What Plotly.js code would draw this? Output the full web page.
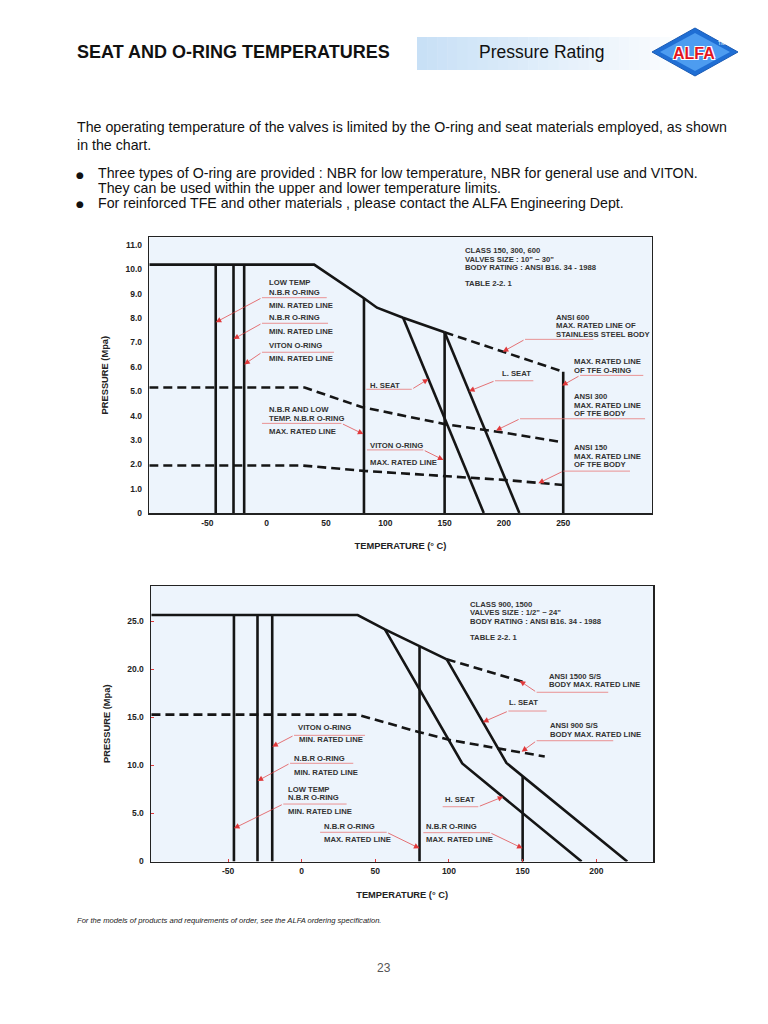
<!DOCTYPE html>
<html>
<head>
<meta charset="utf-8">
<script src="https://cdn.plot.ly/plotly-3.0.1.min.js"></script>
<style>html,body{margin:0;padding:0;background:#fff;}#chart{width:768px;height:1024px;}</style>
</head>
<body>
<div id="chart"></div>
<script>
// ---------- DATA: chart 1 (Class 150, 300, 600) ----------
const C1_TICK_T = [-50, 0, 50, 100, 150, 200, 250];
const C1_TICK_T_TEXT = ['-50', '0', '50', '100', '150', '200', '250'];
const C1_TICK_P = [0, 1, 2, 3, 4, 5, 6, 7, 8, 9, 10, 11];
const C1_TICK_P_TEXT = ['0', '1.0', '2.0', '3.0', '4.0', '5.0', '6.0', '7.0', '8.0', '9.0', '10.0', '11.0'];

const c1MaxT = [-99, 40, 82, 93, 115, 150];
const c1MaxP = [10.2, 10.2, 8.82, 8.43, 8.02, 7.42];
const c1Ansi600T = [150, 250];
const c1Ansi600P = [7.42, 5.8];
const c1TfeOringT = 250, c1TfeOringTop = 5.8;
const c1HSeatT = [115, 183];
const c1HSeatP = [8.02, 0];
const c1LSeatT = [150, 213];
const c1LSeatP = [7.42, 0];
const c1VitonMaxT = 150, c1VitonMaxTop = 7.42;
const c1NbrMaxT = 82, c1NbrMaxTop = 8.82;
const c1MinT = [-43, -28, -19];       // low temp NBR, NBR, VITON min rated
const c1MinTop = 10.2;
const c1Ansi300T = [-99, 32, 80, 150, 200, 250];
const c1Ansi300P = [5.15, 5.15, 4.35, 3.65, 3.3, 2.9];
const c1Ansi150T = [-99, 30, 82, 150, 200, 250];
const c1Ansi150P = [1.95, 1.95, 1.73, 1.53, 1.36, 1.15];

// ---------- DATA: chart 2 (Class 900, 1500) ----------
const C2_TICK_T = [-50, 0, 50, 100, 150, 200];
const C2_TICK_T_TEXT = ['-50', '0', '50', '100', '150', '200'];
const C2_TICK_P = [0, 5, 10, 15, 20, 25];
const C2_TICK_P_TEXT = ['0', '5.0', '10.0', '15.0', '20.0', '25.0'];

const c2MaxT = [-102, 38, 56.5, 98.5];
const c2MaxP = [25.65, 25.65, 24.16, 21.04];
const c2Ansi1500T = [98.5, 150];
const c2Ansi1500P = [21.04, 18.7];
const c2LSeatT = [98.5, 139, 221];
const c2LSeatP = [21.04, 10.25, 0];
const c2HSeatT = [56.5, 109, 190];
const c2HSeatP = [24.16, 10.2, 0];
const c2NbrMaxT = [80, 150];
const c2NbrMaxTop = [22.4, 8.87];
const c2MinT = [-46, -30, -20];
const c2MinTop = 25.65;
const c2Ansi900T = [-102, 38, 80, 100, 135, 165];
const c2Ansi900P = [15.28, 15.28, 13.45, 12.66, 11.72, 10.93];

// ---------- styles ----------
const INK = '#151515';
const RED = '#e0393b';
const SOLID = {color: INK, width: 2.6};
const DASH = {color: INK, width: 2.6, dash: '9px,5px'};
const FONT = 'Liberation Sans, Arial, Helvetica, sans-serif';

const traces = [];
function line(x, y, ax, style) {
  traces.push({type: 'scatter', mode: 'lines', x: x, y: y, xaxis: ax === 1 ? 'x' : 'x2', yaxis: ax === 1 ? 'y' : 'y2',
    line: style, hoverinfo: 'skip', showlegend: false});
}
// chart 1
line(c1MaxT, c1MaxP, 1, SOLID);
line(c1Ansi600T, c1Ansi600P, 1, DASH);
line([c1TfeOringT, c1TfeOringT], [c1TfeOringTop, 0], 1, SOLID);
line(c1HSeatT, c1HSeatP, 1, SOLID);
line(c1LSeatT, c1LSeatP, 1, SOLID);
line([c1VitonMaxT, c1VitonMaxT], [c1VitonMaxTop, 0], 1, SOLID);
line([c1NbrMaxT, c1NbrMaxT], [c1NbrMaxTop, 0], 1, SOLID);
c1MinT.forEach(t => line([t, t], [c1MinTop, 0], 1, SOLID));
line(c1Ansi300T, c1Ansi300P, 1, DASH);
line(c1Ansi150T, c1Ansi150P, 1, DASH);
// chart 2
line(c2MaxT, c2MaxP, 2, SOLID);
line(c2Ansi1500T, c2Ansi1500P, 2, DASH);
line(c2LSeatT, c2LSeatP, 2, SOLID);
line(c2HSeatT, c2HSeatP, 2, SOLID);
c2NbrMaxT.forEach((t, i) => line([t, t], [c2NbrMaxTop[i], 0], 2, SOLID));
c2MinT.forEach(t => line([t, t], [c2MinTop, 0], 2, SOLID));
line(c2Ansi900T, c2Ansi900P, 2, DASH);

// ---------- annotations / shapes ----------
const annotations = [];
const shapes = [];
const LABEL_FONT = {family: FONT, size: 7.7, color: '#333', weight: 'bold'};

function text(ax, x, y, lines, sp) {
  lines.forEach((s, i) => annotations.push({xref: ax === 1 ? 'x' : 'x2', yref: ax === 1 ? 'y' : 'y2', x: x, y: y,
    yshift: -i * (sp || 8.4), text: s, showarrow: false, xanchor: 'left', yanchor: 'middle', font: LABEL_FONT}));
}
function underline(ax, y, x0, x1) {
  shapes.push({type: 'line', xref: ax === 1 ? 'x' : 'x2', yref: ax === 1 ? 'y' : 'y2', x0: x0, x1: x1, y0: y, y1: y,
    line: {color: '#e87878', width: 0.8}});
}
function leader(ax, fx, fy, tx, ty) {
  annotations.push({xref: ax === 1 ? 'x' : 'x2', yref: ax === 1 ? 'y' : 'y2', axref: ax === 1 ? 'x' : 'x2', ayref: ax === 1 ? 'y' : 'y2',
    x: tx, y: ty, ax: fx, ay: fy, text: '', showarrow: true, arrowhead: 2, arrowsize: 1.6, arrowwidth: 0.7,
    arrowcolor: RED, standoff: 0, startstandoff: 0});
}

// chart 1 labels
text(1, 0, 9.45, ['LOW TEMP', 'N.B.R O-RING'], 9.6); text(1, 0, 8.54, ['MIN. RATED LINE']);
underline(1, 8.84, -4, 50.6); leader(1, -4, 8.84, -43, 7.83);
text(1, 0, 8.02, ['N.B.R O-RING']); text(1, 0, 7.46, ['MIN. RATED LINE']);
underline(1, 7.79, -4, 51.7); leader(1, -4, 7.79, -28, 7.14);
text(1, 0, 6.88, ['VITON O-RING']); text(1, 0, 6.36, ['MIN. RATED LINE']);
underline(1, 6.6, -4, 56.7); leader(1, -4, 6.6, -19, 6.1);
text(1, 85.2, 5.24, ['H. SEAT']);
underline(1, 5.08, 84, 122.3); leader(1, 122.3, 5.08, 136.3, 5.5);
text(1, 0, 4.23, ['N.B.R AND LOW', 'TEMP. N.B.R O-RING'], 8.5); text(1, 0, 3.33, ['MAX. RATED LINE']);
underline(1, 3.68, -4, 63); leader(1, 63, 3.68, 81.5, 3.24);
text(1, 85.7, 2.78, ['VITON O-RING']); text(1, 85.7, 2.06, ['MAX. RATED LINE']);
underline(1, 2.59, 84.5, 132); leader(1, 132, 2.59, 149, 2.18);
text(1, 165.8, 10.76, ['CLASS 150, 300, 600', 'VALVES SIZE : 10" ~ 30"', 'BODY RATING : ANSI B16. 34 - 1988'], 8.3);
text(1, 165.8, 9.41, ['TABLE 2-2. 1']);
text(1, 242.2, 8.02, ['ANSI 600', 'MAX. RATED LINE OF', 'STAINLESS STEEL BODY'], 8.2);
underline(1, 7.13, 217.8, 275.4); leader(1, 217.8, 7.13, 199, 6.62);
text(1, 257.7, 6.2, ['MAX. RATED LINE', 'OF TFE O-RING'], 8.3);
underline(1, 5.65, 264.2, 317.5); leader(1, 264.2, 5.65, 249, 5.23);
text(1, 196.7, 5.71, ['L. SEAT']);
underline(1, 5.43, 192.5, 224.8); leader(1, 192.5, 5.43, 170.5, 5.0);
text(1, 257.7, 4.77, ['ANSI 300', 'MAX. RATED LINE', 'OF TFE BODY'], 8.3);
underline(1, 3.87, 213.6, 319); leader(1, 213.6, 3.87, 193.3, 3.39);
text(1, 257.7, 2.68, ['ANSI 150', 'MAX. RATED LINE', 'OF TFE BODY'], 8.6);
underline(1, 1.72, 250, 306.3); leader(1, 250, 1.72, 229, 1.22);

// chart 2 labels
text(2, -3.9, 13.92, ['VITON O-RING']); text(2, -3.4, 12.72, ['MIN. RATED LINE']);
underline(2, 13.13, -5.2, 43); leader(2, -5.2, 13.13, -20, 11.95);
text(2, -6.8, 10.7, ['N.B.R O-RING']); text(2, -6.8, 9.31, ['MIN. RATED LINE']);
underline(2, 10.22, -7.9, 35); leader(2, -7.9, 10.22, -30, 8.38);
text(2, -10.7, 7.54, ['LOW TEMP', 'N.B.R O-RING'], 8.7); text(2, -10.7, 5.25, ['MIN. RATED LINE']);
underline(2, 5.98, -12.5, 30.5); leader(2, -12.5, 5.98, -46, 3.45);
text(2, 13.6, 3.66, ['N.B.R O-RING']); text(2, 13.6, 2.31, ['MAX. RATED LINE']);
underline(2, 3.04, 12.5, 57.7); leader(2, 57.7, 3.04, 80, 1.37);
text(2, 113.1, 26.76, ['CLASS 900, 1500', 'VALVES SIZE : 1/2" ~ 24"', 'BODY RATING : ANSI B16. 34 - 1988'], 8.5);
text(2, 113.1, 23.33, ['TABLE 2-2. 1']);
text(2, 166.3, 19.3, ['ANSI 1500 S/S', 'BODY MAX. RATED LINE'], 8.3);
underline(2, 17.61, 159.5, 208.1); leader(2, 159.5, 17.61, 148, 18.8);
text(2, 139.6, 16.57, ['L. SEAT']);
underline(2, 15.66, 140.3, 166.3); leader(2, 140.3, 15.66, 123, 14.5);
text(2, 167.4, 14.17, ['ANSI 900 S/S', 'BODY MAX. RATED LINE'], 8.7);
underline(2, 12.57, 159.5, 211.5); leader(2, 159.5, 12.57, 149.3, 11.43);
text(2, 95.7, 6.5, ['H. SEAT']);
underline(2, 5.7, 95.7, 119.9); leader(2, 119.9, 5.7, 136.9, 6.75);
text(2, 83, 3.62, ['N.B.R O-RING']); text(2, 83, 2.31, ['MAX. RATED LINE']);
underline(2, 3.0, 82.6, 127.8); leader(2, 127.8, 3.0, 150, 1.37);

// ---------- page texts (paper coordinates) ----------
const W = 768, H = 1024;
function px(x) { return x / W; }
function py(y) { return 1 - y / H; }
function page(x, y, s, font, opts) {
  annotations.push(Object.assign({xref: 'paper', yref: 'paper', x: px(x), y: py(y), text: s, showarrow: false,
    xanchor: 'left', yanchor: 'middle', font: font}, opts || {}));
}
const BODY = {family: FONT, size: 14.2, color: '#111'};
const AXT = {family: FONT, size: 9.3, color: '#222', weight: 'bold'};

// header gradient box
const gx0 = 417, gx1 = 700, steps = 28;
for (let i = 0; i < steps; i++) {
  const f = i / (steps - 1);
  const r = Math.round(200 + (255 - 200) * f), g = Math.round(224 + (255 - 224) * f), b = Math.round(246 + (255 - 246) * f);
  shapes.push({type: 'rect', xref: 'paper', yref: 'paper', layer: 'below',
    x0: px(gx0 + (gx1 - gx0) * i / steps), x1: px(gx0 + (gx1 - gx0) * (i + 1) / steps + 0.5),
    y0: py(70), y1: py(37), line: {width: 0}, fillcolor: `rgb(${r},${g},${b})`});
}
// ALFA logo diamond
shapes.push({type: 'path', xref: 'paper', yref: 'paper',
  path: `M ${px(652)} ${py(52)} L ${px(695)} ${py(28)} L ${px(738)} ${py(52)} L ${px(695)} ${py(76)} Z`,
  fillcolor: '#1f6ed4', line: {color: '#1a5bb5', width: 1}});
shapes.push({type: 'path', xref: 'paper', yref: 'paper',
  path: `M ${px(660)} ${py(52)} L ${px(695)} ${py(33)} L ${px(730)} ${py(52)} L ${px(695)} ${py(71)} Z`,
  fillcolor: '#4d9cf0', line: {width: 0}});

page(75, 52, 'SEAT AND O-RING TEMPERATURES', {family: FONT, size: 18, color: '#111', weight: 'bold'});
page(541, 52, 'Pressure Rating', {family: FONT, size: 17.5, color: '#111'}, {xanchor: 'center'});
page(694, 53, 'ALFA', {family: FONT, size: 16, color: '#e3141f', weight: 'bold',
  shadow: '-1px -1px 0 #fff, 1px -1px 0 #fff, -1px 1px 0 #fff, 1px 1px 0 #fff'}, {xanchor: 'center'});
page(716, 43, 'TM', {family: FONT, size: 5, color: '#ffffff'}, {xanchor: 'left'});

page(75, 127, 'The operating temperature of the valves is limited by the O-ring and seat materials employed, as shown', BODY);
page(75, 145, 'in the chart.', BODY);
page(74, 175, '●', {family: 'DejaVu Sans, sans-serif', size: 9, color: '#111'});
page(96, 173, 'Three types of O-ring are provided : NBR for low temperature, NBR for general use and VITON.', BODY);
page(96, 188, 'They can be used within the upper and lower temperature limits.', BODY);
page(74, 204, '●', {family: 'DejaVu Sans, sans-serif', size: 9, color: '#111'});
page(96, 203, 'For reinforced TFE and other materials , please contact the ALFA Engineering Dept.', BODY);

page(75, 920, 'For the models of products and requirements of order, see the ALFA ordering specification.',
  {family: FONT, size: 7.6, color: '#222', style: 'italic'});
page(384, 968, '23', {family: FONT, size: 12, color: '#555'}, {xanchor: 'center'});

// ---------- axes ----------
const TICKF = {family: FONT, size: 8.5, color: '#222', weight: 'bold'};
const axBase = {showline: true, mirror: true, linecolor: '#222', linewidth: 1.5, showgrid: false, zeroline: false,
  tickfont: TICKF, tickmode: 'array', fixedrange: true};
const XTITLE = {text: 'TEMPERATURE (° C)', font: AXT, standoff: 16};
const YTITLE = {text: 'PRESSURE (Mpa)', font: AXT, standoff: 15};

const layout = {
  width: W, height: H, margin: {l: 0, r: 0, t: 0, b: 0},
  paper_bgcolor: '#ffffff', plot_bgcolor: '#edf4fc', showlegend: false,
  xaxis: Object.assign({}, axBase, {domain: [px(149.3), px(651.7)], range: [-99, 324.6], anchor: 'y',
    tickvals: C1_TICK_T, ticktext: C1_TICK_T_TEXT, ticks: '', ticklabelstandoff: 1, title: XTITLE}),
  yaxis: Object.assign({}, axBase, {domain: [py(513), py(237.3)], range: [0, 11.32], anchor: 'x',
    tickvals: C1_TICK_P, ticktext: C1_TICK_P_TEXT, ticks: '', ticklabelstandoff: 4, title: YTITLE}),
  xaxis2: Object.assign({}, axBase, {domain: [px(151), px(653.3)], range: [-102.3, 238.7], anchor: 'y2',
    tickvals: C2_TICK_T, ticktext: C2_TICK_T_TEXT, ticks: 'inside', ticklen: 3, tickcolor: RED, tickwidth: 1,
    ticklabelstandoff: 1, title: XTITLE}),
  yaxis2: Object.assign({}, axBase, {domain: [py(861.5), py(586)], range: [0, 28.67], anchor: 'x2',
    tickvals: C2_TICK_P, ticktext: C2_TICK_P_TEXT, ticks: 'inside', ticklen: 3, tickcolor: RED, tickwidth: 1,
    ticklabelstandoff: 4, title: YTITLE}),
  annotations: annotations,
  shapes: shapes
};

Plotly.newPlot('chart', traces, layout, {staticPlot: true, displayModeBar: false});
</script>
</body>
</html>
